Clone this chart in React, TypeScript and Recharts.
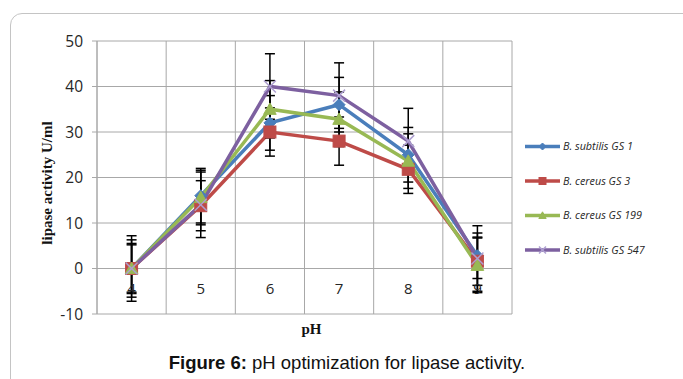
import React from "react";
import { LineChart, Line, XAxis, YAxis, CartesianGrid, ReferenceLine, ErrorBar } from "recharts";

const phValues = [4, 5, 6, 7, 8, 9];
const gs1 = [0, 16, 32, 36, 25, 2.8];
const gs1Err = [5.2, 6, 6, 6, 6, 5];
const gs3 = [0, 13.8, 30, 28, 21.8, 1.6];
const gs3Err = [5.5, 5.5, 5.3, 5.3, 5.3, 5.3];
const gs199 = [0, 15.6, 35, 32.8, 23.6, 0.7];
const gs199Err = [6.3, 6, 6.3, 6, 6, 6];
const gs547 = [0, 14, 40, 38, 28, 2.2];
const gs547Err = [7.2, 7.2, 7.2, 7.2, 7.2, 7.2];
const yTicks = [-10, 0, 10, 20, 30, 40, 50];
const gridBounds = [3.5, 4.5, 5.5, 6.5, 7.5, 8.5, 9.5];

const seriesInfo = [
  { key: "gs1", name: "B. subtilis GS 1", color: "#4a7ebb", marker: "diamond" },
  { key: "gs3", name: "B. cereus GS 3", color: "#be4b48", marker: "square" },
  { key: "gs199", name: "B. cereus GS 199", color: "#98b954", marker: "triangle" },
  { key: "gs547", name: "B. subtilis GS 547", color: "#7d60a0", marker: "x" },
];

const data = phValues.map((ph, i) => ({
  ph,
  gs1: gs1[i], gs1Err: gs1Err[i],
  gs3: gs3[i], gs3Err: gs3Err[i],
  gs199: gs199[i], gs199Err: gs199Err[i],
  gs547: gs547[i], gs547Err: gs547Err[i],
}));

const GRID = "#a8a8a8";
const TICK_FONT = "'Open Sans', sans-serif";

function Marker({ type, cx, cy, color, s }: { type: string; cx: number; cy: number; color: string; s: number }) {
  if (cx == null || cy == null) return null;
  if (type === "diamond") {
    return <polygon points={`${cx},${cy - s} ${cx + s},${cy} ${cx},${cy + s} ${cx - s},${cy}`} fill={color} stroke={color} strokeWidth={1} />;
  }
  if (type === "square") {
    return <rect x={cx - s} y={cy - s} width={2 * s} height={2 * s} fill={color} stroke={color} strokeWidth={1} />;
  }
  if (type === "triangle") {
    return <polygon points={`${cx},${cy - s * 1.05} ${cx + s * 1.05},${cy + s * 0.85} ${cx - s * 1.05},${cy + s * 0.85}`} fill={color} stroke={color} strokeWidth={1} />;
  }
  return (
    <g stroke="#ad9fd0" strokeWidth={1.5}>
      <line x1={cx - s} y1={cy - s} x2={cx + s} y2={cy + s} />
      <line x1={cx - s} y1={cy + s} x2={cx + s} y2={cy - s} />
    </g>
  );
}

const XTick = (props: any) => {
  const { x, y, payload } = props;
  return (
    <text x={x} y={y - 28} textAnchor="middle" fontSize={15} fontFamily={TICK_FONT} fill="#262626">
      {payload.value}
    </text>
  );
};

export default function App() {
  return (
    <div style={{ position: "absolute", left: 0, top: 0, width: 683, height: 379, overflow: "hidden", background: "#fff" }}>
      <div style={{ position: "absolute", left: 10, top: 13, width: 720, height: 420, border: "1px solid #c4c4c4", borderRadius: 12, boxSizing: "border-box" }} />
      <div style={{ position: "absolute", left: 0, top: 0 }}>
        <LineChart width={683} height={379} data={data} margin={{ top: 41, right: 171, bottom: 35, left: 0 }}>
          <CartesianGrid vertical={false} stroke={GRID} strokeWidth={1} />
          {gridBounds.map((b) => (
            <ReferenceLine key={b} x={b} stroke={GRID} strokeWidth={1} />
          ))}
          <ReferenceLine y={0} stroke={GRID} strokeWidth={1} />
          <XAxis
            dataKey="ph"
            type="number"
            domain={[3.5, 9.5]}
            ticks={phValues}
            axisLine={false}
            tickLine={false}
            tickSize={6}
            tickMargin={2}
            height={30}
            tick={<XTick />}
            interval={0}
          />
          <YAxis
            type="number"
            domain={[-10, 50]}
            ticks={yTicks}
            width={97}
            axisLine={{ stroke: GRID }}
            tickLine={{ stroke: GRID }}
            tickSize={5}
            tickMargin={9}
            tick={{ fontSize: 15.5, fontFamily: TICK_FONT, fill: "#262626" }}
            interval={0}
          />
          {seriesInfo.map((s) => (
            <Line
              key={s.key}
              type="linear"
              dataKey={s.key}
              name={s.name}
              stroke={s.color}
              strokeWidth={3.5}
              isAnimationActive={false}
              activeDot={false}
              dot={(p: any) => <Marker key={`${s.key}-${p.index}`} type={s.marker} cx={p.cx} cy={p.cy} color={s.color} s={6} />}
            >
              <ErrorBar dataKey={`${s.key}Err`} width={5} stroke="#000" strokeWidth={1.5} direction="y" isAnimationActive={false} />
            </Line>
          ))}
        </LineChart>
      </div>
      <svg width={683} height={379} style={{ position: "absolute", left: 0, top: 0, pointerEvents: "none" }}>
        {seriesInfo.map((s, i) => {
          const y = 146.5 + i * 34.5;
          return (
            <g key={s.key}>
              <line x1={525} y1={y} x2={560} y2={y} stroke={s.color} strokeWidth={3.5} />
              <Marker type={s.marker} cx={542.5} cy={y} color={s.color} s={3.5} />
              <text x={563} y={y + 3.7} fontSize={10.8} fontStyle="italic" fontFamily={TICK_FONT} fill="#262626">
                {s.name}
              </text>
            </g>
          );
        })}
        <text transform="translate(52,183) rotate(-90)" textAnchor="middle" fontSize={15} fontWeight="bold" fontFamily="'Liberation Serif', serif" fill="#111">
          lipase activity U/ml
        </text>
        <text x={311.5} y={334} textAnchor="middle" fontSize={15} fontWeight="bold" fontFamily="'Liberation Serif', serif" fill="#111">
          pH
        </text>
        <text x={347} y={368.5} textAnchor="middle" fontSize={18.5} fontFamily="'Liberation Sans', Arial, sans-serif" fill="#111">
          <tspan fontWeight="bold">Figure 6:</tspan> pH optimization for lipase activity.
        </text>
      </svg>
    </div>
  );
}
